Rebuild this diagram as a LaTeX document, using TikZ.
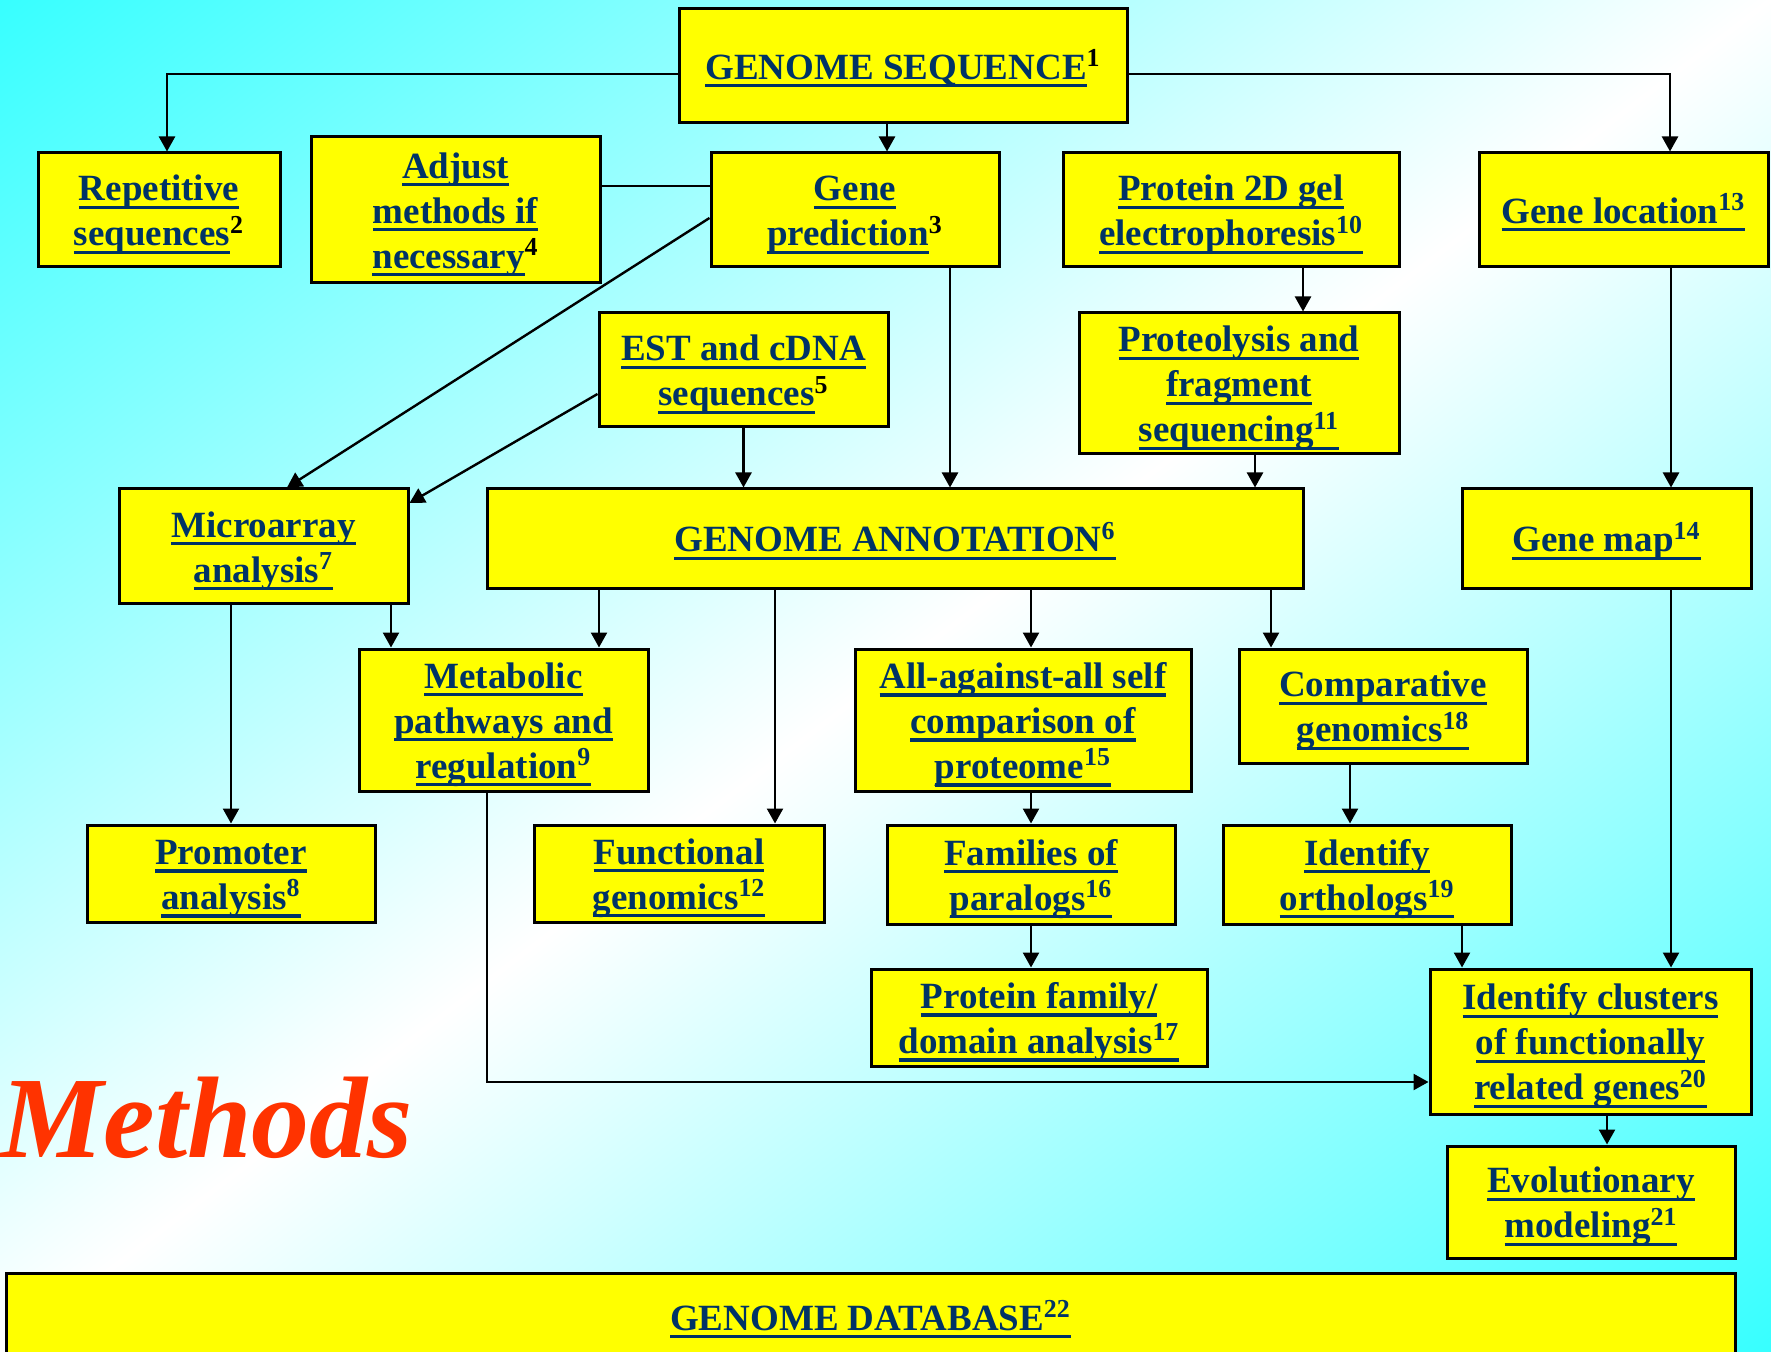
\documentclass[tikz,border=0pt]{standalone}
\usepackage{fontspec}
\setmainfont{Liberation Serif}
\usetikzlibrary{arrows.meta, positioning}

\definecolor{navy}{RGB}{0,51,102}
\definecolor{bgcyan}{RGB}{55,255,255}
\definecolor{boxyellow}{RGB}{255,255,0}
\definecolor{methodred}{RGB}{255,51,0}

% thick underline in the text colour
\newcommand{\uln}[1]{\setbox0=\hbox{#1}\leavevmode\rlap{\rule[-4pt]{\wd0}{1.6pt}}\box0}
\newcommand{\bsup}[1]{\textsuperscript{\color{black}#1}}
\newcommand{\topgap}{\rule{0pt}{17.5pt}}

\begin{document}
\begin{tikzpicture}[
    x=0.5pt, y=-0.5pt,
    box/.style={rectangle, draw=black, line width=1.5pt, fill=boxyellow, align=center, inner sep=0pt, text=navy, font=\fontsize{18.5}{22.5}\selectfont\bfseries},
    arr/.style={-{Triangle[length=7.5pt, width=8pt]}, line width=1.2pt},
    link/.style={line width=1.2pt}
]
    \useasboundingbox (0,0) rectangle (1771,1352);
    % Background
    \begin{scope}
        \clip (0,0) rectangle (1771,1352);
        \begin{scope}[transform canvas={shift={(885.5,676)}, rotate=-52.6}]
            \shade[left color=bgcyan, right color=bgcyan, middle color=white] (-1075,-1300) rectangle (1075,1300);
        \end{scope}
    \end{scope}

    % Nodes
    \node[box, minimum width=224pt, minimum height=57pt] (seq) at (903,66) {\topgap\uln{GENOME SEQUENCE}\bsup{1}};
    \node[box, minimum width=121pt, minimum height=57pt] (rep) at (159,210) {\topgap\uln{Repetitive}\\\uln{sequences}\bsup{2}};
    \node[box, minimum width=144.5pt, minimum height=73pt] (adj) at (455.5,210) {\topgap\uln{Adjust}\\\uln{methods if}\\\uln{necessary}\bsup{4}};
    \node[box, minimum width=144pt, minimum height=57pt] (genepred) at (855,210) {\topgap\uln{Gene}\\\uln{prediction}\bsup{3}};
    \node[box, minimum width=168pt, minimum height=57pt] (gel) at (1231,210) {\topgap\uln{Protein 2D gel}\\\uln{electrophoresis\textsuperscript{10}}};
    \node[box, minimum width=144.5pt, minimum height=57pt] (loc) at (1623.5,210) {\topgap\uln{Gene location\textsuperscript{13}}};
    \node[box, minimum width=144.5pt, minimum height=57pt] (est) at (743.5,370) {\topgap\uln{EST and cDNA}\\\uln{sequences}\bsup{5}};
    \node[box, minimum width=160pt, minimum height=70.5pt] (prot) at (1239,383.5) {\topgap\uln{Proteolysis and}\\\uln{fragment}\\\uln{sequencing\textsuperscript{11}}};
    \node[box, minimum width=144.5pt, minimum height=57pt] (micro) at (263.5,546) {\topgap\uln{Microarray}\\\uln{analysis\textsuperscript{7}}};
    \node[box, minimum width=408pt, minimum height=49.5pt] (annot) at (895,538.5) {\topgap\uln{GENOME ANNOTATION\textsuperscript{6}}};
    \node[box, minimum width=144.5pt, minimum height=49.5pt] (genemap) at (1606.5,538.5) {\topgap\uln{Gene map\textsuperscript{14}}};
    \node[box, minimum width=144.5pt, minimum height=71pt] (metab) at (503.5,720) {\topgap\uln{Metabolic}\\\uln{pathways and}\\\uln{regulation\textsuperscript{9}}};
    \node[box, minimum width=168pt, minimum height=71pt] (allall) at (1023,720) {\topgap\uln{All-against-all self}\\\uln{comparison of}\\\uln{proteome\textsuperscript{15}}};
    \node[box, minimum width=144pt, minimum height=57pt] (comp) at (1383,706) {\topgap\uln{Comparative}\\\uln{genomics\textsuperscript{18}}};
    \node[box, minimum width=144pt, minimum height=48.5pt] (prom) at (231,873.5) {\topgap\uln{Promoter}\\\uln{analysis\textsuperscript{8}}};
    \node[box, minimum width=145pt, minimum height=48.5pt] (func) at (679,873.5) {\topgap\uln{Functional}\\\uln{genomics\textsuperscript{12}}};
    \node[box, minimum width=144pt, minimum height=49.5pt] (fam) at (1031,874.5) {\topgap\uln{Families of}\\\uln{paralogs\textsuperscript{16}}};
    \node[box, minimum width=144pt, minimum height=49.5pt] (orth) at (1367,874.5) {\topgap\uln{Identify}\\\uln{orthologs\textsuperscript{19}}};
    \node[box, minimum width=168pt, minimum height=48.5pt] (pfam) at (1039,1017.5) {\topgap\uln{Protein family/}\\\uln{domain analysis\textsuperscript{17}}};
    \node[box, minimum width=160.5pt, minimum height=72.5pt] (clus) at (1590.5,1041.5) {\topgap\uln{Identify clusters}\\\uln{of functionally}\\\uln{related genes\textsuperscript{20}}};
    \node[box, minimum width=144pt, minimum height=56pt] (evo) at (1591,1202) {\topgap\uln{Evolutionary}\\\uln{modeling\textsuperscript{21}}};
    \node[box, minimum width=864.5pt, minimum height=43.5pt] (db) at (870.5,1316.5) {\topgap\uln{GENOME DATABASE\textsuperscript{22}}};
    \node[anchor=base west, inner sep=0pt, text=methodred, font=\fontsize{58}{60}\selectfont\bfseries\itshape] (methods) at (0,1157) {Methods};

    % Arrows
    \draw[arr] ([yshift=-4pt]seq.west) -| ([xshift=4pt]rep.north);
    \draw[arr] ([yshift=-4pt]seq.east) -| ([xshift=23.25pt]loc.north);
    \draw[arr] ([xshift=16pt]genepred.north |- seq.south) -- ([xshift=16pt]genepred.north);
    \draw[link] ([yshift=12pt]adj.east) -- ([yshift=12pt]genepred.west);
    \draw[arr] ([yshift=-4pt]genepred.west) -- ([xshift=11.75pt]micro.north);
    \draw[arr] ([yshift=-12pt]est.west) -- ([yshift=21.5pt]micro.east);
    \draw[arr] (est.south) -- (est.south |- annot.north);
    \draw[arr] ([xshift=47.5pt]genepred.south) -- ([xshift=47.5pt]genepred.south |- annot.north);
    \draw[arr] ([xshift=36pt]gel.south) -- ([xshift=36pt]gel.south |- prot.north);
    \draw[arr] ([xshift=8pt]prot.south) -- ([xshift=8pt]prot.south |- annot.north);
    \draw[arr] ([xshift=23.75pt]loc.south) -- ([xshift=23.75pt]loc.south |- genemap.north);
    \draw[arr] (prom.north |- micro.south) -- (prom.north);
    \draw[arr] ([xshift=-56.25pt]metab.north |- micro.south) -- ([xshift=-56.25pt]metab.north);
    \draw[arr] ([xshift=47.75pt]metab.north |- annot.south) -- ([xshift=47.75pt]metab.north);
    \draw[arr] ([xshift=48pt]func.north |- annot.south) -- ([xshift=48pt]func.north);
    \draw[arr] ([xshift=4pt]allall.north |- annot.south) -- ([xshift=4pt]allall.north);
    \draw[arr] ([xshift=-56pt]comp.north |- annot.south) -- ([xshift=-56pt]comp.north);
    \draw[arr] (fam.north |- allall.south) -- (fam.north);
    \draw[arr] ([xshift=-8.5pt]orth.north |- comp.south) -- ([xshift=-8.5pt]orth.north);
    \draw[arr] ([xshift=-4pt]pfam.north |- fam.south) -- ([xshift=-4pt]pfam.north);
    \draw[arr] ([xshift=-64.25pt]clus.north |- orth.south) -- ([xshift=-64.25pt]clus.north);
    \draw[arr] ([xshift=40.25pt]clus.north |- genemap.south) -- ([xshift=40.25pt]clus.north);
    \draw[arr] ([xshift=-8.25pt]metab.south) |- ([yshift=-20.25pt]clus.west);
    \draw[arr] ([xshift=8.25pt]clus.south) -- ([xshift=8.25pt]clus.south |- evo.north);
\end{tikzpicture}
\end{document}
